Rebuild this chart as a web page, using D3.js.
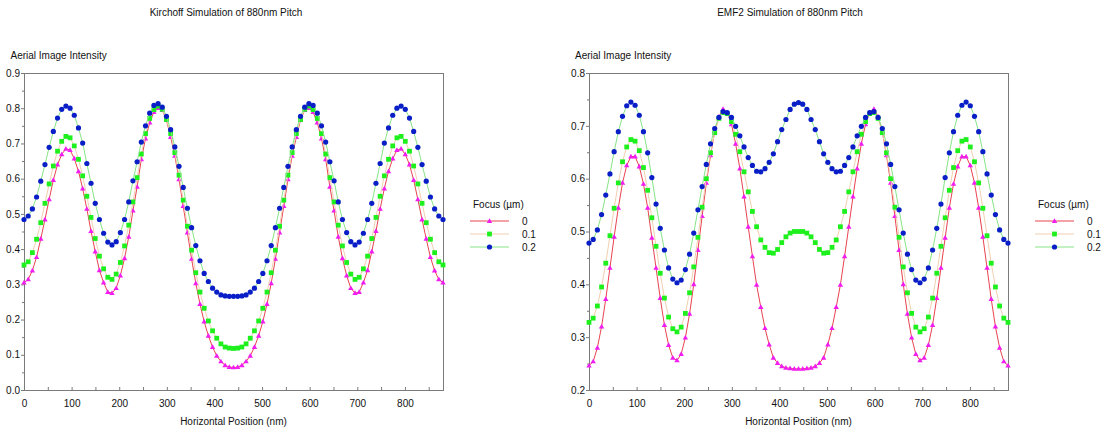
<!DOCTYPE html>
<html>
<head>
<meta charset="utf-8">
<script src="https://cdn.jsdelivr.net/npm/d3@7"></script>
<style>
  html, body { margin: 0; padding: 0; background: #ffffff; }
  svg { display: block; font-family: "Liberation Sans", Arial, sans-serif; }
</style>
</head>
<body>
<svg id="chart" width="1106" height="433"></svg>
<script>
// Sample positions across one 880 nm pitch (8.8 nm step, 101 samples)
const positionsNm = d3.range(101).map(i => +(i * 8.8).toFixed(1));

const focusLabels = ["0", "0.1", "0.2"];

// Kirchoff aerial image intensity, one array per focus setting
const kirchoffFocus0 = [0.305,0.314,0.339,0.377,0.429,0.484,0.541,0.596,0.640,0.669,0.685,0.681,0.657,0.621,0.572,0.514,0.451,0.393,0.340,0.305,0.278,0.275,0.289,0.325,0.374,0.435,0.509,0.577,0.655,0.714,0.759,0.789,0.800,0.795,0.766,0.718,0.665,0.598,0.522,0.447,0.372,0.303,0.244,0.194,0.154,0.122,0.097,0.081,0.070,0.065,0.064,
  0.065,0.070,0.081,0.097,0.122,0.154,0.194,0.244,0.303,0.372,0.447,0.522,0.598,0.665,0.718,0.766,0.795,0.800,0.789,0.759,0.714,0.655,0.577,0.509,0.435,0.374,0.325,0.289,0.275,0.278,0.305,0.340,0.393,0.451,0.514,0.572,0.621,0.657,0.681,0.685,0.669,0.640,0.596,0.541,0.484,0.429,0.377,0.339,0.314,0.305];
const kirchoffFocus01 = [0.355,0.364,0.390,0.428,0.475,0.530,0.585,0.636,0.678,0.706,0.720,0.716,0.693,0.655,0.608,0.550,0.490,0.430,0.380,0.344,0.320,0.314,0.329,0.362,0.409,0.468,0.534,0.603,0.670,0.728,0.771,0.796,0.806,0.797,0.768,0.728,0.674,0.610,0.539,0.465,0.397,0.333,0.278,0.232,0.196,0.168,0.147,0.131,0.122,0.119,0.118,
  0.119,0.122,0.131,0.147,0.168,0.196,0.232,0.278,0.333,0.397,0.465,0.539,0.610,0.674,0.728,0.768,0.797,0.806,0.796,0.771,0.728,0.670,0.603,0.534,0.468,0.409,0.362,0.329,0.314,0.320,0.344,0.380,0.430,0.490,0.550,0.608,0.655,0.693,0.716,0.720,0.706,0.678,0.636,0.585,0.530,0.475,0.428,0.390,0.364,0.355];
const kirchoffFocus02 = [0.484,0.494,0.514,0.548,0.593,0.640,0.689,0.734,0.772,0.797,0.806,0.800,0.780,0.744,0.701,0.643,0.587,0.530,0.484,0.445,0.420,0.412,0.421,0.447,0.484,0.534,0.594,0.648,0.704,0.750,0.786,0.808,0.813,0.803,0.777,0.739,0.690,0.635,0.575,0.516,0.461,0.410,0.367,0.331,0.308,0.289,0.278,0.270,0.267,0.266,0.266,
  0.266,0.267,0.270,0.278,0.289,0.308,0.331,0.367,0.410,0.461,0.516,0.575,0.635,0.690,0.739,0.777,0.803,0.813,0.808,0.786,0.750,0.704,0.648,0.594,0.534,0.484,0.447,0.421,0.412,0.420,0.445,0.484,0.530,0.587,0.643,0.701,0.744,0.780,0.800,0.806,0.797,0.772,0.734,0.689,0.640,0.593,0.548,0.514,0.494,0.484];

// EMF2 aerial image intensity, one array per focus setting
const emf2Focus0 = [0.246,0.254,0.280,0.320,0.372,0.431,0.490,0.545,0.592,0.625,0.642,0.642,0.623,0.590,0.545,0.488,0.431,0.374,0.323,0.285,0.261,0.256,0.268,0.299,0.344,0.400,0.465,0.529,0.592,0.644,0.689,0.717,0.732,0.725,0.703,0.666,0.619,0.566,0.509,0.453,0.399,0.357,0.317,0.286,0.261,0.251,0.245,0.242,0.241,0.240,0.240,
  0.240,0.241,0.242,0.245,0.251,0.261,0.286,0.317,0.357,0.399,0.453,0.509,0.566,0.619,0.666,0.703,0.725,0.732,0.717,0.689,0.644,0.592,0.529,0.465,0.400,0.344,0.299,0.268,0.256,0.261,0.285,0.323,0.374,0.431,0.488,0.545,0.590,0.623,0.642,0.642,0.625,0.592,0.545,0.490,0.431,0.372,0.320,0.280,0.254,0.246];
const emf2Focus01 = [0.328,0.336,0.359,0.395,0.440,0.492,0.544,0.592,0.632,0.660,0.674,0.671,0.653,0.621,0.578,0.526,0.472,0.421,0.374,0.338,0.316,0.310,0.319,0.345,0.384,0.433,0.489,0.546,0.600,0.649,0.687,0.714,0.725,0.723,0.708,0.684,0.651,0.613,0.575,0.538,0.509,0.484,0.470,0.460,0.459,0.466,0.479,0.490,0.497,0.500,0.500,
  0.500,0.497,0.490,0.479,0.466,0.459,0.460,0.470,0.484,0.509,0.538,0.575,0.613,0.651,0.684,0.708,0.723,0.725,0.714,0.687,0.649,0.600,0.546,0.489,0.433,0.384,0.345,0.319,0.310,0.316,0.338,0.374,0.421,0.472,0.526,0.578,0.621,0.653,0.671,0.674,0.660,0.632,0.592,0.544,0.492,0.440,0.395,0.359,0.336,0.328];
const emf2Focus02 = [0.478,0.485,0.503,0.532,0.569,0.609,0.651,0.689,0.718,0.738,0.745,0.739,0.720,0.689,0.649,0.602,0.552,0.506,0.465,0.431,0.410,0.403,0.408,0.428,0.457,0.497,0.541,0.585,0.627,0.666,0.695,0.716,0.727,0.725,0.716,0.699,0.681,0.660,0.640,0.625,0.614,0.613,0.619,0.631,0.647,0.670,0.693,0.712,0.731,0.741,0.744,
  0.741,0.731,0.712,0.693,0.670,0.647,0.631,0.619,0.613,0.614,0.625,0.640,0.660,0.681,0.699,0.716,0.725,0.727,0.716,0.695,0.666,0.627,0.585,0.541,0.497,0.457,0.428,0.408,0.403,0.410,0.431,0.465,0.506,0.552,0.602,0.649,0.689,0.720,0.739,0.745,0.738,0.718,0.689,0.651,0.609,0.569,0.532,0.503,0.485,0.478];

// Per-series look: line colour + marker shape/colour
const seriesStyles = [
  { line: "#e8434f", marker: "#f01cf0", shape: "triangle" },
  { line: "#f0cfb0", marker: "#1ef01e", shape: "square" },
  { line: "#86e486", marker: "#0a1ec8", shape: "circle" }
];

const panels = [
  {
    title: "Kirchoff Simulation of 880nm Pitch",
    series: [kirchoffFocus0, kirchoffFocus01, kirchoffFocus02],
    yDomain: [0, 0.9],
    left: 24, right: 443, top: 73, bottom: 390,
    titleX: 226, yLabelX: 10.5
  },
  {
    title: "EMF2 Simulation of 880nm Pitch",
    series: [emf2Focus0, emf2Focus01, emf2Focus02],
    yDomain: [0.2, 0.8],
    left: 589, right: 1008, top: 73, bottom: 390,
    titleX: 790, yLabelX: 575
  }
];

const svg = d3.select("#chart");
const axisColor = "#7a7a7a";
const textColor = "#111";

function drawMarker(g, shape, x, y, color) {
  if (shape === "triangle") {
    g.append("path")
      .attr("d", `M${x},${y - 2.8}L${x + 2.7},${y + 1.9}L${x - 2.7},${y + 1.9}Z`)
      .attr("fill", color);
  } else if (shape === "square") {
    g.append("rect")
      .attr("x", x - 2.4).attr("y", y - 2.4)
      .attr("width", 4.8).attr("height", 4.8)
      .attr("fill", color);
  } else {
    g.append("circle")
      .attr("cx", x).attr("cy", y).attr("r", 2.6)
      .attr("fill", color);
  }
}

panels.forEach(p => {
  const x = d3.scaleLinear().domain([0, 880]).range([p.left, p.right]);
  const y = d3.scaleLinear().domain(p.yDomain).range([p.bottom, p.top]);
  const g = svg.append("g");

  // titles
  g.append("text").attr("x", p.titleX).attr("y", 15.5)
    .attr("text-anchor", "middle").attr("font-size", 10).attr("fill", textColor)
    .text(p.title);
  g.append("text").attr("x", p.yLabelX).attr("y", 59)
    .attr("font-size", 10).attr("fill", textColor)
    .text("Aerial Image Intensity");
  g.append("text").attr("x", (p.left + p.right) / 2).attr("y", 424.5)
    .attr("text-anchor", "middle").attr("font-size", 10).attr("fill", textColor)
    .text("Horizontal Position (nm)");

  // x axis: labels at 100 nm, short inward ticks every 50 nm
  const xAxis = d3.axisBottom(x)
    .tickValues(d3.range(0, 880, 50))
    .tickSize(-3).tickPadding(10)
    .tickFormat(d => (d % 100 === 0 ? d3.format("d")(d) : ""));
  const xg = g.append("g").attr("transform", `translate(0,${p.bottom})`).call(xAxis);
  xg.select(".domain").remove();
  xg.selectAll("line").attr("stroke", axisColor);
  xg.selectAll("text").attr("font-size", 10).attr("fill", textColor)
    .attr("font-family", "Liberation Sans, Arial, sans-serif");

  // y axis: labelled every 0.1, minor marks at 0.05
  const majors = d3.range(Math.round(p.yDomain[0] * 10), Math.round(p.yDomain[1] * 10) + 1).map(v => v / 10);
  const minors = majors.slice(0, -1).map(v => v + 0.05);
  const yAxis = d3.axisLeft(y).tickValues(majors).tickSize(3).tickPadding(1)
    .tickFormat(d3.format(".1f"));
  const yg = g.append("g").attr("transform", `translate(${p.left},0)`).call(yAxis);
  yg.select(".domain").remove();
  yg.selectAll("line").attr("stroke", axisColor);
  yg.selectAll("text").attr("font-size", 10).attr("fill", textColor)
    .attr("font-family", "Liberation Sans, Arial, sans-serif");
  const ym = d3.axisLeft(y).tickValues(minors).tickSize(2).tickFormat("");
  const ymg = g.append("g").attr("transform", `translate(${p.left},0)`).call(ym);
  ymg.select(".domain").remove();
  ymg.selectAll("line").attr("stroke", axisColor);

  // plot frame
  g.append("rect")
    .attr("x", p.left + 0.5).attr("y", p.top + 0.5)
    .attr("width", p.right - p.left).attr("height", p.bottom - p.top)
    .attr("fill", "none").attr("stroke", axisColor).attr("stroke-width", 1);

  // series: line then markers, drawn 0 → 0.2
  const line = d3.line().x((d, i) => x(positionsNm[i])).y(d => y(d));
  p.series.forEach((vals, si) => {
    const st = seriesStyles[si];
    const sg = g.append("g");
    sg.append("path").datum(vals).attr("d", line)
      .attr("fill", "none").attr("stroke", st.line).attr("stroke-width", 1);
    vals.forEach((v, i) => drawMarker(sg, st.shape, x(positionsNm[i]), y(v), st.marker));
  });

  // legend
  const lx = p.right + 27;
  const lg = g.append("g");
  lg.append("text").attr("x", lx + 3).attr("y", 207.5)
    .attr("font-size", 10).attr("fill", textColor).text("Focus (\u00b5m)");
  focusLabels.forEach((lab, si) => {
    const st = seriesStyles[si];
    const ry = 221 + si * 13;
    lg.append("line").attr("x1", lx).attr("x2", lx + 39).attr("y1", ry).attr("y2", ry)
      .attr("stroke", st.line).attr("stroke-width", 1);
    drawMarker(lg, st.shape, lx + 19.5, ry, st.marker);
    lg.append("text").attr("x", lx + 52).attr("y", ry + 3.5)
      .attr("font-size", 10).attr("fill", textColor).text(lab);
  });
});
</script>
</body>
</html>
